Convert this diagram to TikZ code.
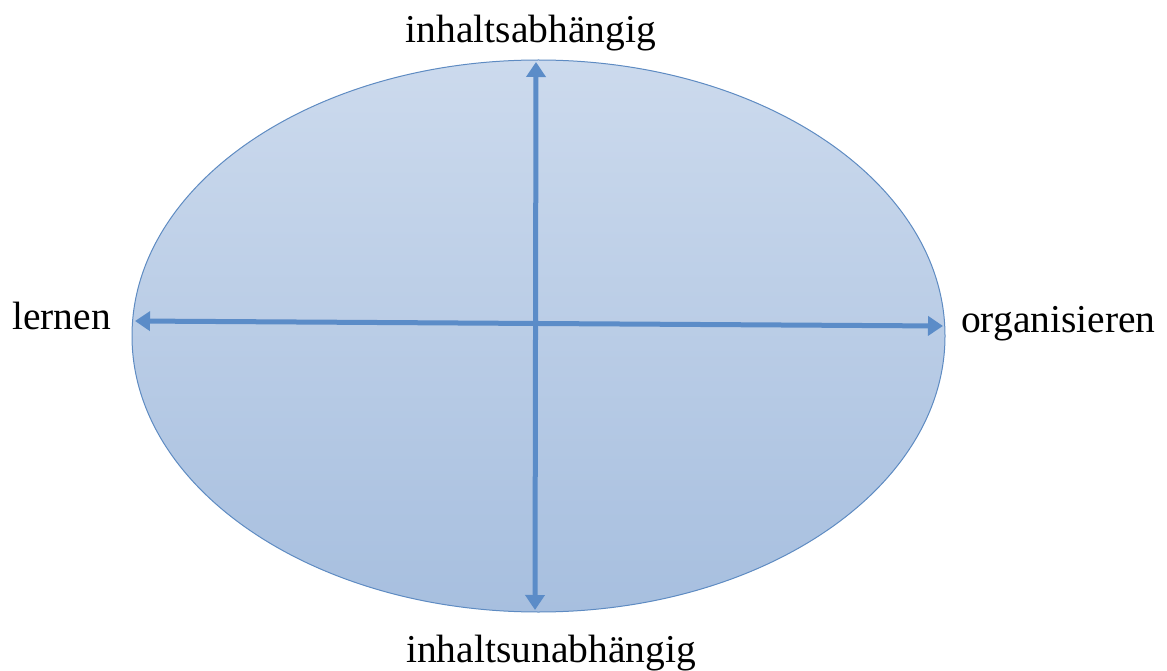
\documentclass[tikz,border=0pt]{standalone}
\usepackage{fontspec}
\setmainfont{Liberation Serif}
\usetikzlibrary{shapes.geometric,arrows.meta}
\definecolor{elltop}{HTML}{CCDAED}
\definecolor{ellbot}{HTML}{A7BFDF}
\definecolor{ellline}{HTML}{5E8BC2}
\definecolor{axis}{HTML}{5B8CC8}
\tikzset{
  field/.style={ellipse, draw=ellline, line width=1pt, top color=elltop, bottom color=ellbot, minimum width=813pt, minimum height=552pt, inner sep=0pt},
  axisarrow/.style={draw=axis, line width=5pt, {Triangle[width=19pt,length=15pt]}-{Triangle[width=19pt,length=15pt]}},
  lbl/.style={font=\fontsize{39.5}{44}\selectfont, text=black, inner sep=0pt, anchor=base}
}
\begin{document}
\begin{tikzpicture}[x=1pt,y=-1pt]
\useasboundingbox (0,0) rectangle (1167,671);
\node[field] (ell) at (538.5,336) {};
\coordinate (L) at (135,321);
\coordinate (R) at (943,326);
\coordinate (T) at (536,62);
\coordinate (B) at (535,610);
\draw[axisarrow] (L) -- (R);
\draw[axisarrow] (T) -- (B);
\node[lbl] (top) at (531,43) {inhaltsabhängig};
\node[lbl] (bot) at (551,662) {inhaltsunabhängig};
\node[lbl, anchor=base west] (left) at (12,329) {lernen};
\node[lbl, anchor=base west] (right) at (961,332) {organisieren};
\end{tikzpicture}
\end{document}
